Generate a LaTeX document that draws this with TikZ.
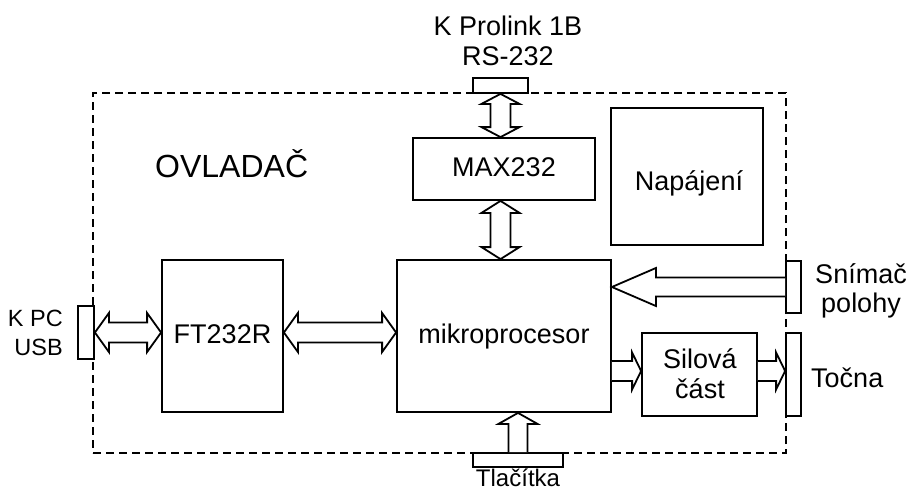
\documentclass[tikz,border=0pt]{standalone}
\usepackage{fontspec}
\setmainfont{Liberation Sans}
\usetikzlibrary{calc}
\tikzset{
  box/.style={draw, line width=1.8pt, inner sep=0pt, font=\fontsize{27}{31}\selectfont, text height=19.5pt, text depth=5.5pt},
  conn/.style={draw, line width=1.8pt, fill=white, inner sep=0pt},
  lab/.style={inner sep=0pt, font=\fontsize{27}{31}\selectfont},
  smalllab/.style={inner sep=0pt, font=\fontsize{23.5}{28}\selectfont},
  bottomlab/.style={inner sep=0pt, font=\fontsize{24}{28}\selectfont},
  titlelab/.style={inner sep=0pt, font=\fontsize{32}{36}\selectfont},
  blockarrow/.style={draw, line width=1.8pt, line join=miter, fill=white},
  framebox/.style={draw, dash pattern=on 8pt off 5pt, line width=1.6pt, inner sep=0pt}
}
% horizontal double block arrow: #1 end A, #2 end B, #3 shaft half width, #4 head half width, #5 head length
\newcommand\hdbl[5]{\path[blockarrow] let \p1=(#1),\p2=(#2),\n1={sign(\x2-\x1)} in
  (\x1,\y1) -- ({\x1+\n1*#5pt},{\y1+#4pt}) -- ({\x1+\n1*#5pt},{\y1+#3pt}) -- ({\x2-\n1*#5pt},{\y1+#3pt}) -- ({\x2-\n1*#5pt},{\y1+#4pt}) -- (\x2,\y1) -- ({\x2-\n1*#5pt},{\y1-#4pt}) -- ({\x2-\n1*#5pt},{\y1-#3pt}) -- ({\x1+\n1*#5pt},{\y1-#3pt}) -- ({\x1+\n1*#5pt},{\y1-#4pt}) -- cycle;}
\newcommand\vdbl[5]{\path[blockarrow] let \p1=(#1),\p2=(#2),\n1={sign(\y2-\y1)} in
  (\x1,\y1) -- ({\x1+#4pt},{\y1+\n1*#5pt}) -- ({\x1+#3pt},{\y1+\n1*#5pt}) -- ({\x1+#3pt},{\y2-\n1*#5pt}) -- ({\x1+#4pt},{\y2-\n1*#5pt}) -- (\x1,\y2) -- ({\x1-#4pt},{\y2-\n1*#5pt}) -- ({\x1-#3pt},{\y2-\n1*#5pt}) -- ({\x1-#3pt},{\y1+\n1*#5pt}) -- ({\x1-#4pt},{\y1+\n1*#5pt}) -- cycle;}
% single block arrows: #1 tail, #2 tip
\newcommand\hsgl[5]{\path[blockarrow] let \p1=(#1),\p2=(#2),\n1={sign(\x2-\x1)} in
  (\x1,{\y1+#3pt}) -- ({\x2-\n1*#5pt},{\y1+#3pt}) -- ({\x2-\n1*#5pt},{\y1+#4pt}) -- (\x2,\y1) -- ({\x2-\n1*#5pt},{\y1-#4pt}) -- ({\x2-\n1*#5pt},{\y1-#3pt}) -- (\x1,{\y1-#3pt});}
\newcommand\vsgl[5]{\path[blockarrow] let \p1=(#1),\p2=(#2),\n1={sign(\y2-\y1)} in
  ({\x1+#3pt},\y1) -- ({\x1+#3pt},{\y2-\n1*#5pt}) -- ({\x1+#4pt},{\y2-\n1*#5pt}) -- (\x1,\y2) -- ({\x1-#4pt},{\y2-\n1*#5pt}) -- ({\x1-#3pt},{\y2-\n1*#5pt}) -- ({\x1-#3pt},\y1);}
\begin{document}
\begin{tikzpicture}[x=1pt,y=-1pt]
\useasboundingbox (0,0) rectangle (908,491);
% frame
\node[framebox, minimum width=693pt, minimum height=360pt] (frame) at (439.5,273) {};
\node[titlelab, anchor=base west] (title) at (155,177) {OVLADAČ};
% boxes
\node[box, minimum width=182pt, minimum height=62pt] (max) at (504,169) {MAX232};
\node[box, minimum width=152pt, minimum height=137pt] (nap) at (687,176.5) {};
\node[lab, anchor=base] (napl) at (689,190) {Napájení};
\node[box, minimum width=121pt, minimum height=152pt] (ft) at (222.5,336) {FT232R};
\node[box, minimum width=214pt, minimum height=152pt] (mikro) at (504,336) {mikroprocesor};
\node[box, minimum width=115pt, minimum height=83pt] (sil) at (699.5,374.5) {};
\node[lab, anchor=base] (sil1) at (700,368) {Silová};
\node[lab, anchor=base] (sil2) at (700,398) {část};
% connectors
\node[conn, minimum width=55pt, minimum height=15pt] (conTop) at (500.5,85.5) {};
\node[conn, minimum width=16pt, minimum height=53pt] (conL) at (86,332.5) {};
\node[conn, minimum width=15pt, minimum height=52pt] (conS) at (793.5,287) {};
\node[conn, minimum width=15pt, minimum height=83pt] (conT) at (793.5,374.5) {};
\node[conn, minimum width=90pt, minimum height=14pt] (conB) at (518,460) {};
% outside labels
\node[lab, anchor=base] (pro1) at (508,35) {K Prolink 1B};
\node[lab, anchor=base] (pro2) at (508,65) {RS-232};
\node[smalllab, anchor=base east] (pc1) at (63,326) {K PC};
\node[smalllab, anchor=base east] (pc2) at (63,355) {USB};
\node[lab, anchor=base] (sn1) at (861,283) {Snímač};
\node[lab, anchor=base] (sn2) at (861,312) {polohy};
\node[lab, anchor=base west] (toc) at (811,387) {Točna};
\node[bottomlab, anchor=base] (tla) at (518,486) {Tlačítka};
% arrows
\coordinate (silin) at ($(sil.west)+(0,-3.5)$);
\coordinate (silout) at ($(sil.east)+(0,-3.5)$);
\hdbl{conL.east}{ft.west |- conL.east}{10}{19.5}{14}
\hdbl{ft.east |- conL.east}{mikro.west |- conL.east}{10}{19.5}{14}
\vdbl{conTop.south}{conTop.south |- max.north}{10}{19}{10}
\vdbl{conTop.south |- max.south}{conTop.south |- mikro.north}{10}{19}{12}
\hsgl{conS.west}{mikro.east |- conS.west}{9.5}{19}{44}
\vsgl{conB.north}{conB.north |- mikro.south}{9.5}{19.5}{11}
\hsgl{mikro.east |- silin}{silin}{10}{18.5}{9}
\hsgl{silout}{conT.west |- silout}{10}{18.5}{9}
\end{tikzpicture}
\end{document}
